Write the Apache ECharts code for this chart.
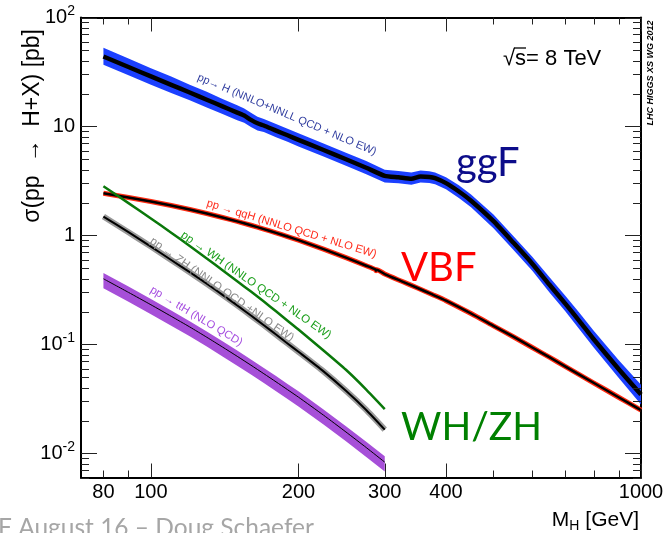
<!DOCTYPE html>
<html><head><meta charset="utf-8">
<script src="https://cdn.jsdelivr.net/npm/echarts@6/dist/echarts.min.js"></script>
<style>html,body{margin:0;padding:0;background:#fff}#c{width:668px;height:533px}</style>
</head><body><div id="c"></div>
<script>
// ---------- data ----------
const ggF_mass = [80, 90, 100, 110, 120, 130, 140, 150, 155, 160, 165, 170, 180, 190, 200, 225, 250, 275, 300, 320, 340, 355, 370, 380, 400, 425, 450, 500, 550, 600, 650, 700, 750, 800, 900, 1000];
const ggF_xs = [43.9, 35.1, 28.8, 24.1, 20.5, 17.6, 15.3, 13.4, 12.6, 11.5, 10.7, 10.2, 9.15, 8.3, 7.53, 6.08, 5.0, 4.18, 3.52, 3.42, 3.31, 3.48, 3.44, 3.35, 3.02, 2.53, 2.08, 1.35, 0.85, 0.55, 0.354, 0.238, 0.162, 0.112, 0.0594, 0.0346];
const ggF_uncUp = [20,20,19,19,18,18,17,17,16,16,15,15,15,15,15,15,15,15,14,14,14,13,13,13,13,14,14,15,15,16,17,18,19,20,21,23];
const ggF_uncDn = [16,16,16,16,15,15,15,15,14,14,14,13,13,13,13,13,13,13,13,12,12,12,12,12,12,13,13,14,14,14,15,15,16,16,17,19];

const vbf_mass = [80, 90, 100, 110, 120, 130, 140, 150, 160, 170, 180, 190, 200, 225, 250, 275, 287, 288, 289, 300, 325, 350, 375, 400, 450, 500, 550, 600, 650, 700, 800, 900, 1000];
const vbf_xs = [2.44, 2.23, 2.05, 1.88, 1.73, 1.59, 1.46, 1.345, 1.239, 1.143, 1.055, 0.976, 0.904, 0.749, 0.626, 0.527, 0.487, 0.474, 0.485, 0.442, 0.379, 0.329, 0.287, 0.252, 0.192, 0.148, 0.117, 0.0936, 0.0763, 0.0629, 0.0444, 0.0327, 0.0249];

const vh_mass = [80, 90, 100, 110, 120, 130, 140, 150, 160, 170, 180, 190, 200, 225, 250, 275, 300];
const wh_xs = [2.83, 1.98, 1.43, 1.06, 0.80, 0.615, 0.48, 0.38, 0.305, 0.247, 0.201, 0.165, 0.137, 0.088, 0.0585, 0.0385, 0.0255];
const zh_xs = [1.49, 1.07, 0.79, 0.595, 0.46, 0.36, 0.285, 0.228, 0.184, 0.150, 0.123, 0.102, 0.0855, 0.0565, 0.0375, 0.025, 0.0165];
const tth_xs = [0.40, 0.300, 0.231, 0.181, 0.1445, 0.1163, 0.0945, 0.0777, 0.0644, 0.0538, 0.0453, 0.0384, 0.0328, 0.0224, 0.0157, 0.0113, 0.0083];
const tth_uncUp = [13,13,13,13,13,13,13,13,13,13,13,13,13,13,13,13,13];
const tth_uncDn = [18,18,18,18,18,18,18,18,18,18,18,18,18,18,18,18,18];

// axes / ticks
const xLabelValues = [80, 100, 200, 300, 400, 1000];
const xMajorTicks = [100, 200, 300, 400, 1000];
const xMinorTicks = [80, 90, 500, 600, 700, 800, 900];
const yLabelValues = [0.01, 0.1, 1, 10, 100];
const yLabelTexts = ['{b|10}{s|-2}', '{b|10}{s|-1}', '{b|1}', '{b|10}', '{b|10}{s|2}'];
const yMinorMultipliers = [2, 3, 4, 5, 6, 7, 8, 9];
const yDecades = [0.001, 0.01, 0.1, 1, 10];
const X_MIN = 72, X_MAX = 1000, Y_MIN = 0.006, Y_MAX = 100;

// ---------- build ----------
const FONT = 'Liberation Sans';
const yMinorTicks = [];
yDecades.forEach(d => yMinorMultipliers.forEach(k => { const v = +(d * k).toPrecision(3); if (v >= Y_MIN && v <= Y_MAX) yMinorTicks.push(v); }));

function xAx(pos, withLabels) {
  return {
    type: 'log', logBase: 10, min: X_MIN, max: X_MAX, position: pos, gridIndex: 0,
    axisLine: { show: true, onZero: false, lineStyle: { color: '#000', width: 2 } },
    axisTick: { show: false },
    axisLabel: withLabels ? {
      show: true, customValues: xLabelValues, margin: 5, color: '#000', fontSize: 20, fontFamily: FONT,
      formatter: v => String(Math.round(v))
    } : { show: false },
    splitLine: { show: false }, minorTick: { show: false }, minorSplitLine: { show: false }
  };
}
function yAx(pos, withLabels) {
  return {
    type: 'log', logBase: 10, min: Y_MIN, max: Y_MAX, position: pos, gridIndex: 0,
    axisLine: { show: true, onZero: false, lineStyle: { color: '#000', width: 2 } },
    axisTick: { show: false },
    axisLabel: withLabels ? {
      show: true, customValues: yLabelValues, margin: 6, color: '#000', fontFamily: FONT,
      formatter: v => { let i = 0, best = 1e9; yLabelValues.forEach((u, k) => { const d = Math.abs(Math.log10(u) - Math.log10(v)); if (d < best) { best = d; i = k; } }); return yLabelTexts[i]; },
      rich: {
        b: { fontSize: 20, fontFamily: FONT, color: '#000', lineHeight: 26 },
        s: { fontSize: 14, fontFamily: FONT, color: '#000', lineHeight: 12, verticalAlign: 'top' }
      }
    } : { show: false },
    splitLine: { show: false }, minorTick: { show: false }, minorSplitLine: { show: false }
  };
}

// tick marks drawn through the axes' own scales
function xTickSeries(values, len) {
  return {
    type: 'custom', coordinateSystem: 'cartesian2d', xAxisIndex: 0, yAxisIndex: 0, silent: true, clip: false, z: 10,
    data: values.map(v => [v, 1]),
    renderItem: function (params, api) {
      const cs = params.coordSys;
      const px = Math.round(api.coord([api.value(0), api.value(1)])[0]) + 0.5;
      const yb = cs.y + cs.height, yt = cs.y;
      return { type: 'group', children: [
        { type: 'line', shape: { x1: px, y1: yb, x2: px, y2: yb - len }, style: { stroke: '#222', lineWidth: 1 } },
        { type: 'line', shape: { x1: px, y1: yt, x2: px, y2: yt + len }, style: { stroke: '#222', lineWidth: 1 } }
      ] };
    }
  };
}
function yTickSeries(values, len) {
  return {
    type: 'custom', coordinateSystem: 'cartesian2d', xAxisIndex: 0, yAxisIndex: 0, silent: true, clip: false, z: 10,
    data: values.map(v => [100, v]),
    renderItem: function (params, api) {
      const cs = params.coordSys;
      const py = Math.round(api.coord([api.value(0), api.value(1)])[1]) + 0.5;
      const xl = cs.x, xr = cs.x + cs.width;
      return { type: 'group', children: [
        { type: 'line', shape: { x1: xl, y1: py, x2: xl + len, y2: py }, style: { stroke: '#222', lineWidth: 1 } },
        { type: 'line', shape: { x1: xr, y1: py, x2: xr - len, y2: py }, style: { stroke: '#222', lineWidth: 1 } }
      ] };
    }
  };
}

function pairs(mass, xs) { return mass.map((m, i) => [m, xs[i]]); }
function bandSeries(mass, xs, up, dn, color, z) {
  const data = mass.map((m, i) => [m, xs[i] * (1 + up[i] / 100), xs[i] * (1 - dn[i] / 100)]);
  return {
    type: 'custom', coordinateSystem: 'cartesian2d', xAxisIndex: 0, yAxisIndex: 0, z: z, silent: true,
    data: data, encode: { x: 0, y: [1, 2] }, clip: true,
    renderItem: function (params, api) {
      if (params.dataIndex !== 0) return null;
      const upper = data.map(d => api.coord([d[0], d[1]]));
      const lower = data.map(d => api.coord([d[0], d[2]])).reverse();
      return { type: 'polygon', shape: { points: upper.concat(lower) }, style: { fill: color, stroke: null } };
    }
  };
}
function lineSeries(mass, xs, color, width, z) {
  return {
    type: 'line', data: pairs(mass, xs), xAxisIndex: 0, yAxisIndex: 0, symbol: 'none', showSymbol: false,
    smooth: 0.2, silent: true, z: z, lineStyle: { color: color, width: width, cap: 'butt', join: 'round' }, clip: true
  };
}

function txt(x, y, rotDeg, text, size, color, extra) {
  return {
    type: 'text', x: x, y: y, rotation: rotDeg * Math.PI / 180, silent: true, z: 50,
    style: Object.assign({ text: text, fontSize: size, fontFamily: FONT, fill: color, textAlign: 'left', textVerticalAlign: 'middle' }, extra || {})
  };
}

const chart = echarts.init(document.getElementById('c'), null, { renderer: 'canvas', width: 668, height: 533 });
chart.setOption({
  animation: false,
  backgroundColor: '#fff',
  textStyle: { fontFamily: FONT },
  grid: { left: 81, right: 27, top: 17.5, bottom: 55.5, containLabel: false, outerBoundsMode: 'none' },
  xAxis: [ xAx('bottom', true), xAx('top', false) ],
  yAxis: [ yAx('left', true), yAx('right', false) ],
  series: [
    bandSeries(ggF_mass, ggF_xs, ggF_uncUp, ggF_uncDn, '#1c40ff', 1),
    bandSeries(vh_mass, tth_xs, tth_uncUp, tth_uncDn, '#a64fd8', 1),
    lineSeries(vbf_mass, vbf_xs, '#ff2a10', 5, 2),
    lineSeries(vh_mass, zh_xs, '#9a9a9a', 6, 2),
    lineSeries(ggF_mass, ggF_xs, '#000', 4.5, 3),
    lineSeries(vbf_mass, vbf_xs, '#000', 2.5, 3),
    lineSeries(vh_mass, wh_xs, '#0a780a', 2.5, 3),
    lineSeries(vh_mass, zh_xs, '#000', 2, 3),
    lineSeries(vh_mass, tth_xs, '#000', 1, 3),
    xTickSeries(xMajorTicks, 14),
    xTickSeries(xMinorTicks, 7),
    yTickSeries(yLabelValues, 16),
    yTickSeries(yMinorTicks, 8)
  ],
  graphic: [
    txt(33, 29, 90, 'σ(pp  →  H+X) [pb]', 23, '#000', { textAlign: 'right' }),
    { type: 'text', x: 639, y: 520, silent: true, style: { text: '{b|M}{s|H}{b| [GeV]}', textAlign: 'right', textVerticalAlign: 'middle',
      rich: { b: { fontSize: 21, fontFamily: FONT, fill: '#000', lineHeight: 26 }, s: { fontSize: 14, fontFamily: FONT, fill: '#000', lineHeight: 14, verticalAlign: 'bottom' } } } },
    txt(503, 58.5, 0, '√s= 8 TeV', 22, '#000'),
    { type: 'line', silent: true, z: 50, shape: { x1: 514, y1: 48, x2: 526, y2: 48 }, style: { stroke: '#000', lineWidth: 1.3 } },
    txt(651, 73, 90, 'LHC HIGGS XS WG 2012', 9, '#000', { textAlign: 'center', fontWeight: 'bold', fontStyle: 'italic' }),
    txt(198, 77, -23, 'pp→ H (NNLO+NNLL QCD + NLO EW)', 11, '#2e3b9e'),
    txt(207, 203, -17, 'pp → qqH (NNLO QCD + NLO EW)', 11.2, '#ff2a1a'),
    txt(182, 234, -34.7, 'pp → WH (NNLO QCD + NLO EW)', 11.5, '#1ea01e'),
    txt(151, 240, -35, 'pp → ZH (NNLO QCD +NLO EW)', 11.5, '#8c8c8c'),
    txt(151, 289, -31, 'pp → ttH (NLO QCD)', 11.2, '#a64fe0'),
    txt(456, 163, 0, 'ggF', 40, '#0c0c8a', { fontFamily: 'Lato' }),
    txt(401, 268, 0, 'VBF', 40, '#ff0000', { fontFamily: 'Lato' }),
    txt(401, 427, 0, 'WH/ZH', 39, '#008000', { fontFamily: 'Lato' }),
    txt(-2, 528, 0, 'F August 16 – Doug Schaefer', 24.5, '#a6a6a6', { fontFamily: 'Lato' })
  ]
});
</script></body></html>
